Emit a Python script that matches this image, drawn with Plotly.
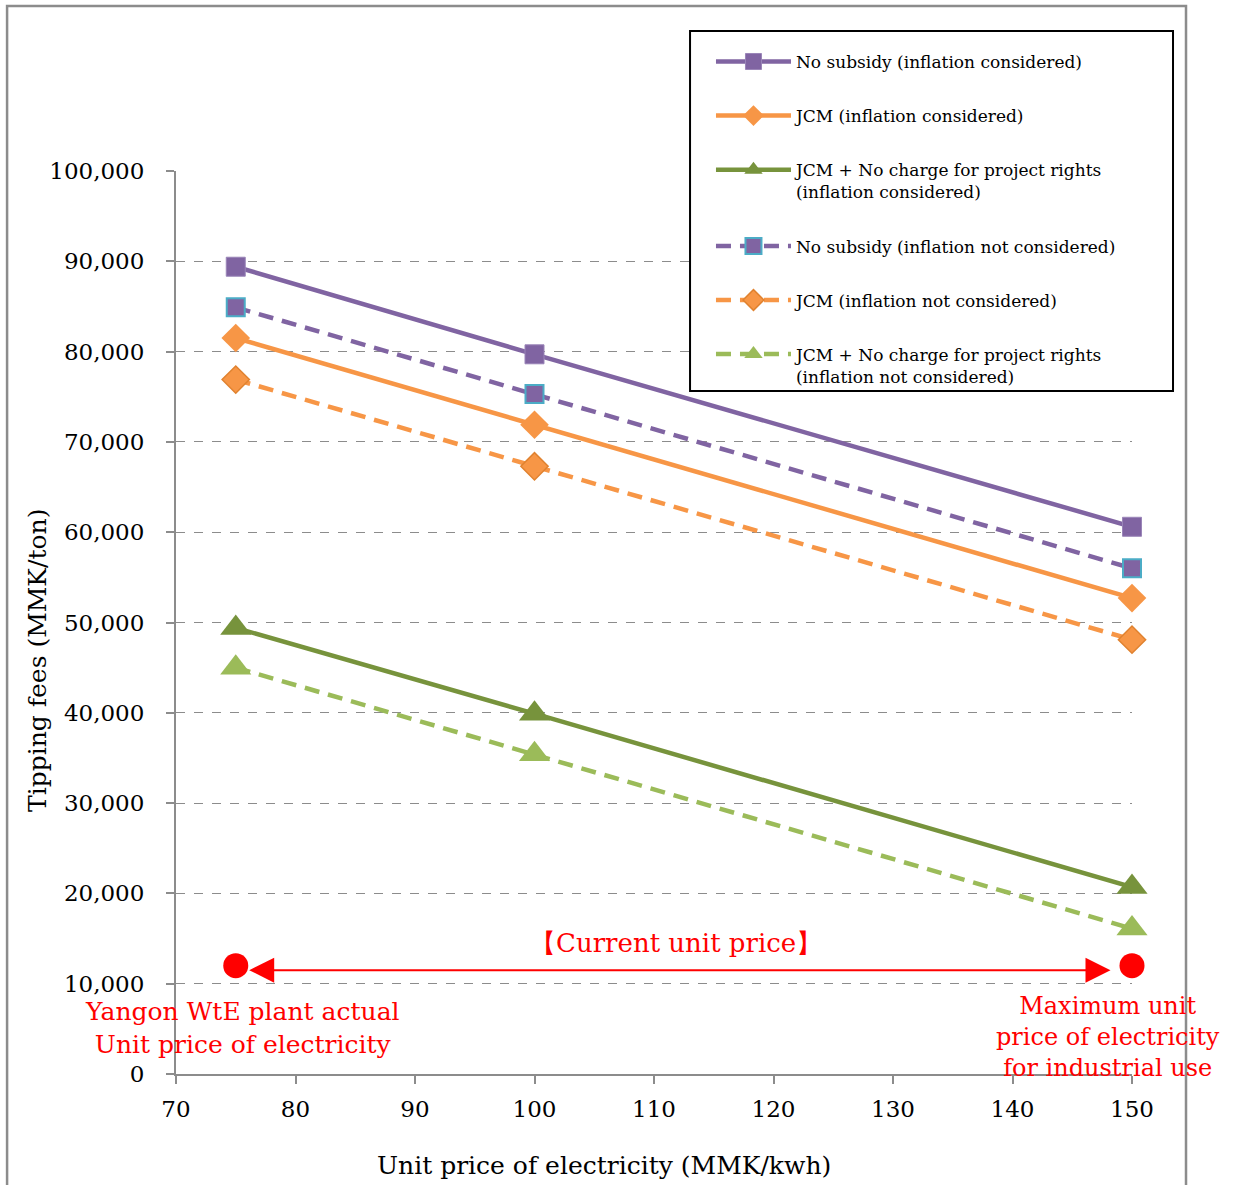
import plotly.graph_objects as go

# Unit price of electricity (MMK/kWh)
price = [75, 100, 150]

# Tipping fees (MMK/ton) for each scenario
no_subsidy_infl = [89400, 79700, 60600]
jcm_infl = [81500, 71900, 52700]
jcm_free_rights_infl = [49400, 39900, 20700]
no_subsidy = [84900, 75300, 56000]
jcm = [76900, 67300, 48100]
jcm_free_rights = [45000, 35400, 16100]

series_names = [
    "No subsidy (inflation considered)",
    "JCM (inflation considered)",
    "JCM + No charge for project rights<br>(inflation considered)",
    "No subsidy (inflation not considered)",
    "JCM (inflation not considered)",
    "JCM + No charge for project rights<br>(inflation not considered)",
]

# Reference prices marked on the chart
current_price_range = [75, 150]
current_price_level = 12000

x_ticks = [70, 80, 90, 100, 110, 120, 130, 140, 150]
y_ticks = list(range(0, 100001, 10000))

SERIF = "DejaVu Serif"
PURPLE = "#8064a2"
ORANGE = "#f79646"
GREEN_DARK = "#77933c"
GREEN_LIGHT = "#9bbb59"
RED = "#ff0000"
DASH = "15px,9px"

styles = [
    dict(values=no_subsidy_infl, color=PURPLE, dash="solid",
         marker=dict(symbol="square", size=19, color=PURPLE, line=dict(color="#9a85b8", width=1))),
    dict(values=jcm_infl, color=ORANGE, dash="solid",
         marker=dict(symbol="diamond", size=22, color=ORANGE, line=dict(color=ORANGE, width=0))),
    dict(values=jcm_free_rights_infl, color=GREEN_DARK, dash="solid",
         marker=dict(symbol="triangle-up", size=27, color=GREEN_DARK, line=dict(width=0))),
    dict(values=no_subsidy, color=PURPLE, dash=DASH,
         marker=dict(symbol="square", size=18, color=PURPLE, line=dict(color="#4bacc6", width=2))),
    dict(values=jcm, color=ORANGE, dash=DASH,
         marker=dict(symbol="diamond", size=21, color=ORANGE, line=dict(color="#e0822f", width=1.5))),
    dict(values=jcm_free_rights, color=GREEN_LIGHT, dash=DASH,
         marker=dict(symbol="triangle-up", size=27, color=GREEN_LIGHT, line=dict(width=0))),
]

fig = go.Figure()

for i, (name, st) in enumerate(zip(series_names, styles)):
    fig.add_trace(go.Scatter(
        x=price, y=st["values"], name=name, mode="lines+markers",
        line=dict(color=st["color"], width=4.5, dash=st["dash"]),
        marker=st["marker"], cliponaxis=False,
        legendgroup=f"g{i}",
    ))

# Red end points of the current unit price range
fig.add_trace(go.Scatter(
    x=current_price_range, y=[current_price_level] * 2, mode="markers",
    marker=dict(symbol="circle", size=25, color=RED), showlegend=False,
    cliponaxis=False, hoverinfo="skip",
))

# Double-headed arrow spanning the current price range
fig.add_annotation(
    x=148.2, y=11500, ax=76.0, ay=11500, xref="x", yref="y", axref="x", ayref="y",
    text="", showarrow=True, arrowhead=2, startarrowhead=2, arrowside="end+start",
    arrowsize=2.5, startarrowsize=2.5, arrowwidth=2, arrowcolor=RED,
)
fig.add_annotation(
    x=111.8, y=14500, xref="x", yref="y", text="【Current unit price】",
    showarrow=False, font=dict(family=SERIF, size=26, color=RED),
)
fig.add_annotation(
    x=75.6, y=5100, xref="x", yref="y",
    text="Yangon WtE plant actual<br>Unit price of electricity",
    showarrow=False, font=dict(family=SERIF, size=25, color=RED),
)
fig.add_annotation(
    x=148.0, y=4100, xref="x", yref="y",
    text="Maximum unit<br>price of electricity<br>for industrial use",
    showarrow=False, font=dict(family=SERIF, size=24, color=RED),
)

# Axis titles
fig.add_annotation(
    x=0.4477, y=-0.1008, xref="paper", yref="paper",
    xanchor="center", yanchor="middle",
    text="Unit price of electricity (MMK/kwh)", showarrow=False,
    font=dict(family=SERIF, size=25, color="black"),
)
fig.add_annotation(
    x=-0.1444, y=0.4585, xref="paper", yref="paper", textangle=-90,
    xanchor="center", yanchor="middle",
    text="Tipping fees (MMK/ton)", showarrow=False,
    font=dict(family=SERIF, size=25, color="black"),
)

# Outer frame and legend box
fig.add_shape(type="rect", xref="paper", yref="paper",
              x0=-0.1767, x1=1.0565, y0=-0.15, y1=1.1828,
              line=dict(color="#8c8c8c", width=2.5), fillcolor="rgba(0,0,0,0)",
              layer="below")
fig.add_shape(type="rect", xref="paper", yref="paper",
              x0=0.5377, x1=1.0429, y0=0.7563, y1=1.1550,
              line=dict(color="black", width=2), fillcolor="white", layer="above")

fig.update_layout(
    width=1237, height=1185,
    margin=dict(l=176, r=105, t=171, b=111),
    paper_bgcolor="white", plot_bgcolor="white",
    font=dict(family=SERIF, color="black"),
    showlegend=True,
    legend=dict(
        x=0.5596, y=1.1407, xanchor="left", yanchor="top",
        bgcolor="rgba(0,0,0,0)", borderwidth=0,
        font=dict(family=SERIF, size=17, color="black"),
        tracegroupgap=29, itemwidth=75, valign="top",
    ),
    xaxis=dict(
        range=[70, 150], tickvals=x_ticks, showgrid=False, zeroline=False,
        showline=True, linecolor="#8c8c8c", linewidth=2,
        ticks="outside", ticklen=8, tickcolor="#8c8c8c", tickwidth=2,
        tickfont=dict(family=SERIF, size=23, color="black"),
        ticklabelstandoff=5,
    ),
    yaxis=dict(
        range=[0, 100000], tickvals=y_ticks, tickformat=",d",
        showgrid=True, gridcolor="#8c8c8c", griddash="dash", gridwidth=1,
        zeroline=False, showline=True, linecolor="#8c8c8c", linewidth=2,
        ticks="outside", ticklen=8, tickcolor="#8c8c8c", tickwidth=2,
        tickfont=dict(family=SERIF, size=23, color="black"),
        ticklabelstandoff=17,
    ),
)

fig.write_html("out.html")
